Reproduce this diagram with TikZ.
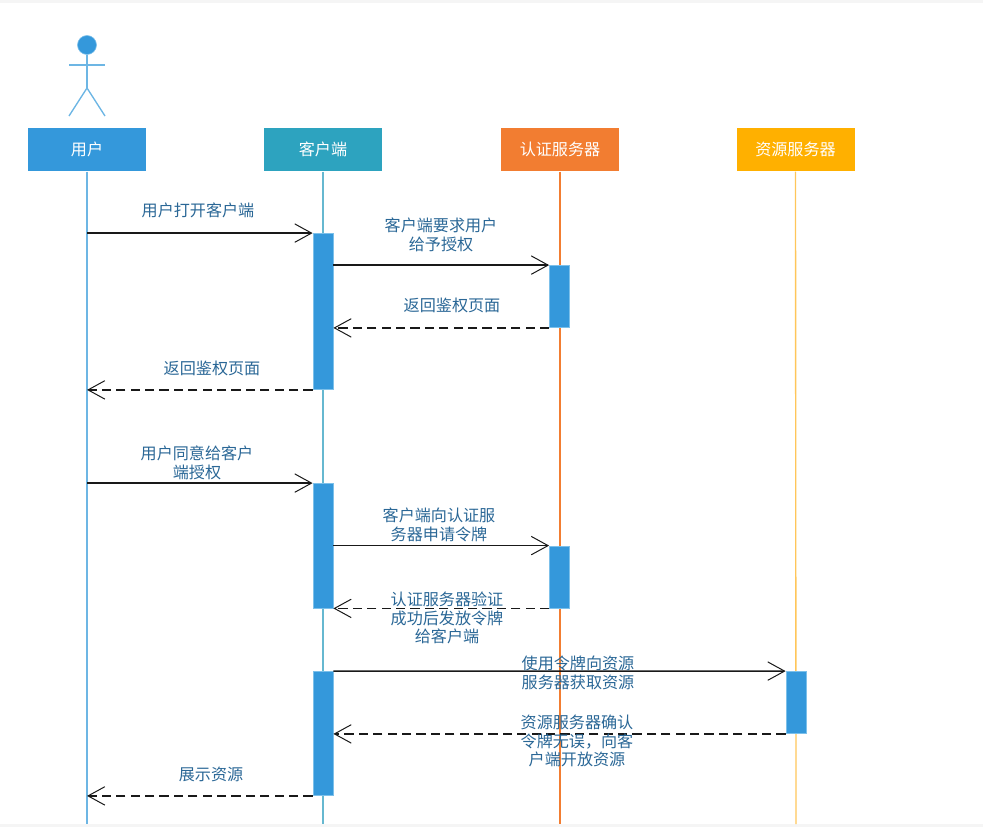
\documentclass[tikz,border=0pt]{standalone}
\usepackage{fontspec}
\setmainfont{Noto Sans CJK SC}
\usetikzlibrary{arrows.meta,calc}
\definecolor{userblue}{HTML}{3498DB}
\definecolor{userline}{HTML}{6DB6E4}
\definecolor{clientteal}{HTML}{2DA3BF}
\definecolor{clientline}{HTML}{66B8D0}
\definecolor{authorange}{HTML}{F27D31}
\definecolor{resamber}{HTML}{FFB000}
\definecolor{resline}{HTML}{FFC65A}
\definecolor{labelblue}{HTML}{2A6796}
\definecolor{barrim}{HTML}{7CC0EA}
\tikzset{
  headbox/.style={minimum width=29.5mm,minimum height=10.75mm,text=white},
  actbar/.style={fill=userblue,draw=barrim,line width=.2mm,minimum width=5mm},
  msg/.style={-{Straight Barb[length=4.2mm,width=4.6mm,line width=.25mm]},line width=.36mm,black!90},
  reply/.style={msg,dash pattern=on 2.3mm off 1.3mm},
  lbl/.style={text=labelblue,align=center},
}
\begin{document}
\begin{tikzpicture}[x=.25mm,y=.25mm,
  font=\fontsize{11.45}{13.2}\selectfont,
  every node/.style={inner sep=0pt},
  line width=.34mm]
\path[use as bounding box] (0,-827) rectangle (983,0);
\fill[black!4] (0,0) rectangle (983,-3);
\fill[black!4] (0,-824) rectangle (983,-827);

% actor
\node[circle,fill=userblue,draw=barrim,line width=.15mm,minimum size=4.75mm] (head) at (87,-45) {};
\coordinate (hip) at (87,-88);
\coordinate (armL) at (69,-65);
\coordinate (armR) at (105,-65);
\coordinate (footL) at (69,-116);
\coordinate (footR) at (105,-116);
\draw[userline] (head)--(hip);
\draw[userline] (armL)--(armR);
\draw[userline] (footL)--(hip)--(footR);

% heads
\node[headbox,fill=userblue] (user) at (87,-149.5) {用户};
\node[headbox,fill=clientteal] (client) at (323,-149.5) {客户端};
\node[headbox,fill=authorange] (auth) at (560,-149.5) {认证服务器};
\node[headbox,fill=resamber] (res) at (795.5,-149.5) {资源服务器};

% lifelines
\coordinate (userEnd) at (87,-824);
\coordinate (clientEnd) at (323,-824);
\coordinate (authEnd) at (560,-824);
\coordinate (resEnd) at (796,-824);
\draw[userline] (user.south)--(userEnd);
\draw[clientline] (client.south)--(clientEnd);
\draw[authorange,line width=.27mm] (auth.south)--(authEnd);
\draw[resline] (res.south)--(resEnd);

% bars
\node[actbar,minimum height=39mm] (cA) at (323,-311.5) {};
\node[actbar,minimum height=31.25mm] (cB) at (323,-546) {};
\node[actbar,minimum height=31mm] (cC) at (323,-733.5) {};
\node[actbar,minimum height=15.5mm] (aA) at (559.5,-296.5) {};
\node[actbar,minimum height=15.5mm] (aB) at (559.5,-577) {};
\node[actbar,minimum height=15.5mm] (rA) at (796,-702.5) {};

% first round
\draw[msg] (cA.north west -| user.south)--(cA.north west);
\draw[msg] (aA.north west -| cA.east)--(aA.north west);
\draw[reply] (aA.south west)--(aA.south west -| cA.east);
\draw[reply] (cA.south west)--(cA.south west -| user.south);
\node[lbl] (t1) at (198,-210) {用户打开客户端};
\node[lbl] (t2) at (441,-235) {客户端要求用户\\给予授权};
\node[lbl] (t3) at (452,-305.5) {返回鉴权页面};
\node[lbl] (t4) at (212,-368) {返回鉴权页面};

% second round
\draw[msg] (cB.north west -| user.south)--(cB.north west);
\draw[msg] (aB.north west -| cB.east)--(aB.north west);
\draw[reply] (aB.south west)--(aB.south west -| cB.east);
\node[lbl] (t5) at (197,-463) {用户同意给客户\\端授权};
\node[lbl] (t6) at (439,-525) {客户端向认证服\\务器申请令牌};
\node[lbl] (t7) at (447,-618) {认证服务器验证\\成功后发放令牌\\给客户端};

% resource
\draw[msg] (cC.north east)--(rA.north west);
\draw[reply] (rA.south west)--(rA.south west -| cC.east);
\draw[reply] (cC.south west)--(cC.south west -| user.south);
\node[lbl] (t8) at (578,-673) {使用令牌向资源\\服务器获取资源};
\node[lbl] (t9) at (577,-741) {资源服务器确认\\令牌无误，向客\\户端开放资源};
\node[lbl] (t10) at (211,-774) {展示资源};
\end{tikzpicture}
\end{document}
